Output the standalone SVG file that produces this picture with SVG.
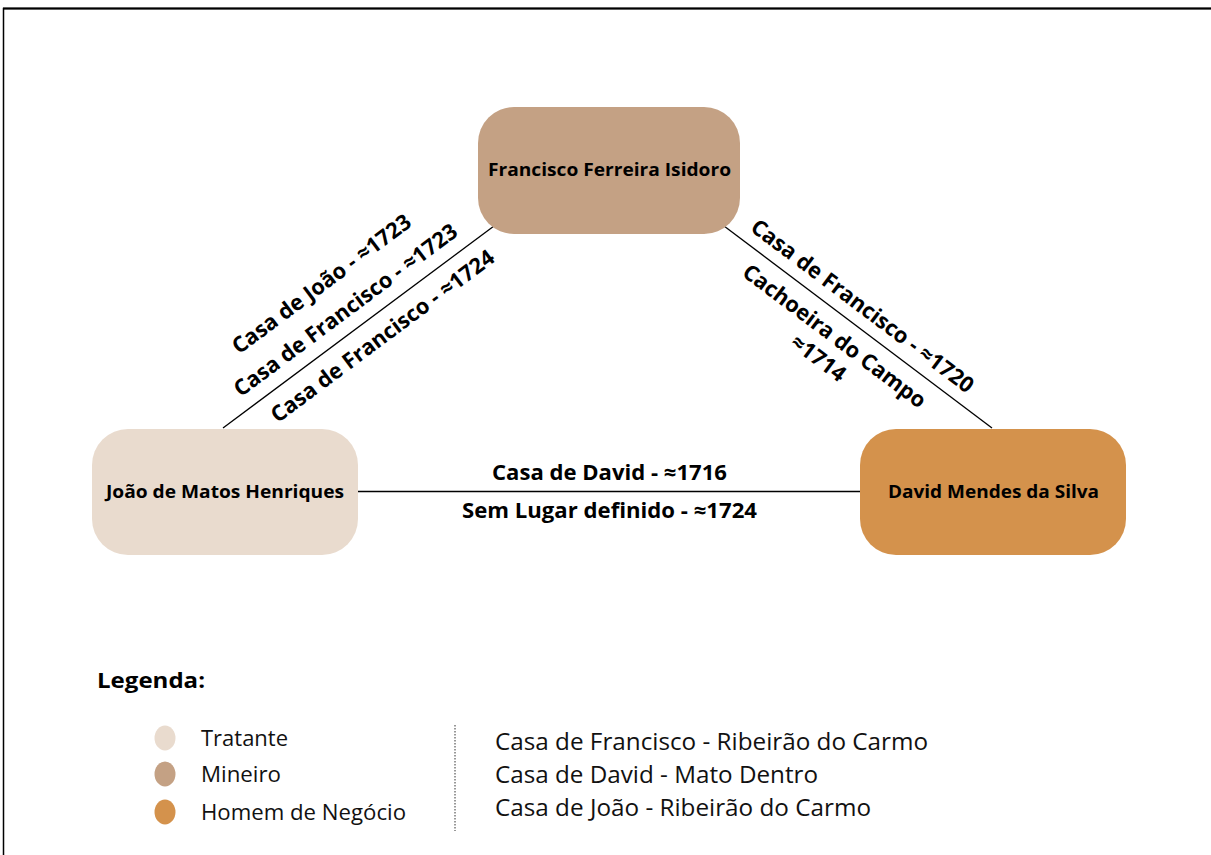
<svg xmlns="http://www.w3.org/2000/svg" width="1211" height="855" viewBox="0 0 1211 855">
<style>
.b{font-family:"Open Sans","Liberation Sans",sans-serif;font-weight:bold;fill:#000}
.n{font-size:18px;text-anchor:middle}
.e{font-size:21px;text-anchor:middle}
.d{font-size:21.8px}
.r{font-family:"Open Sans","Liberation Sans",sans-serif;fill:#111}
.c{stroke:#000;stroke-width:1.3;fill:none}
</style>
<rect x="0" y="0" width="1211" height="855" fill="#fff"/>
<rect x="3.5" y="8.5" width="1220" height="870" fill="none" stroke="#000" stroke-width="1.5"/>
<line x1="3" y1="8.5" x2="1211" y2="8.5" stroke="#000" stroke-width="2"/>
<g id="connectors">
<line class="c" x1="223" y1="428" x2="494" y2="226"/>
<line class="c" x1="724" y1="226" x2="992" y2="428"/>
<line class="c" x1="358" y1="491.5" x2="860" y2="491.5"/>
</g>
<g id="edge-labels">
<text class="b e d" transform="translate(326,290) rotate(-36.7)">Casa de João - ≈1723</text>
<text class="b e d" transform="translate(350,316) rotate(-36.7)">Casa de Francisco - ≈1723</text>
<text class="b e d" transform="translate(387,342) rotate(-36.7)">Casa de Francisco - ≈1724</text>
<text class="b e d" transform="translate(858,312) rotate(37)">Casa de Francisco - ≈1720</text>
<text class="b e d" transform="translate(830,342) rotate(37)">Cachoeira do Campo</text>
<text class="b e d" transform="translate(814,364) rotate(37)">≈1714</text>
<text class="b e" x="609.5" y="480" textLength="235" lengthAdjust="spacingAndGlyphs">Casa de David - ≈1716</text>
<text class="b e" x="609.5" y="518" textLength="295" lengthAdjust="spacingAndGlyphs">Sem Lugar definido - ≈1724</text>
</g>
<g id="node-francisco">
<rect x="478" y="107" width="262" height="127" rx="36" fill="#C4A184"/>
<text class="b n" x="609.5" y="176" textLength="243" lengthAdjust="spacingAndGlyphs">Francisco Ferreira Isidoro</text>
</g>
<g id="node-joao">
<rect x="92" y="429" width="266" height="126" rx="36" fill="#E9DBCE"/>
<text class="b n" x="225" y="498" textLength="238" lengthAdjust="spacingAndGlyphs">João de Matos Henriques</text>
</g>
<g id="node-david">
<rect x="860" y="429" width="266" height="126" rx="36" fill="#D4924C"/>
<text class="b n" x="993.5" y="498" textLength="211" lengthAdjust="spacingAndGlyphs">David Mendes da Silva</text>
</g>
<g id="legend">
<text class="b" x="97" y="688" style="font-size:22px" textLength="108" lengthAdjust="spacingAndGlyphs">Legenda:</text>
<ellipse cx="165" cy="738" rx="10.5" ry="12.5" fill="#E9DBCE"/>
<ellipse cx="165" cy="774" rx="10.5" ry="12.5" fill="#C4A184"/>
<ellipse cx="165" cy="812" rx="10.5" ry="12.5" fill="#D4924C"/>
<text class="r" x="201" y="746" font-size="21" textLength="87" lengthAdjust="spacingAndGlyphs">Tratante</text>
<text class="r" x="201" y="782" font-size="21" textLength="80" lengthAdjust="spacingAndGlyphs">Mineiro</text>
<text class="r" x="201" y="820" font-size="21" textLength="205" lengthAdjust="spacingAndGlyphs">Homem de Negócio</text>
<line x1="455" y1="725" x2="455" y2="831" stroke="#333" stroke-width="1" stroke-dasharray="1.5,1.5"/>
<text class="r" x="495" y="750" font-size="23" textLength="433" lengthAdjust="spacingAndGlyphs">Casa de Francisco - Ribeirão do Carmo</text>
<text class="r" x="495" y="783" font-size="23" textLength="323" lengthAdjust="spacingAndGlyphs">Casa de David - Mato Dentro</text>
<text class="r" x="495" y="816" font-size="23" textLength="376" lengthAdjust="spacingAndGlyphs">Casa de João - Ribeirão do Carmo</text>
</g>
</svg>
